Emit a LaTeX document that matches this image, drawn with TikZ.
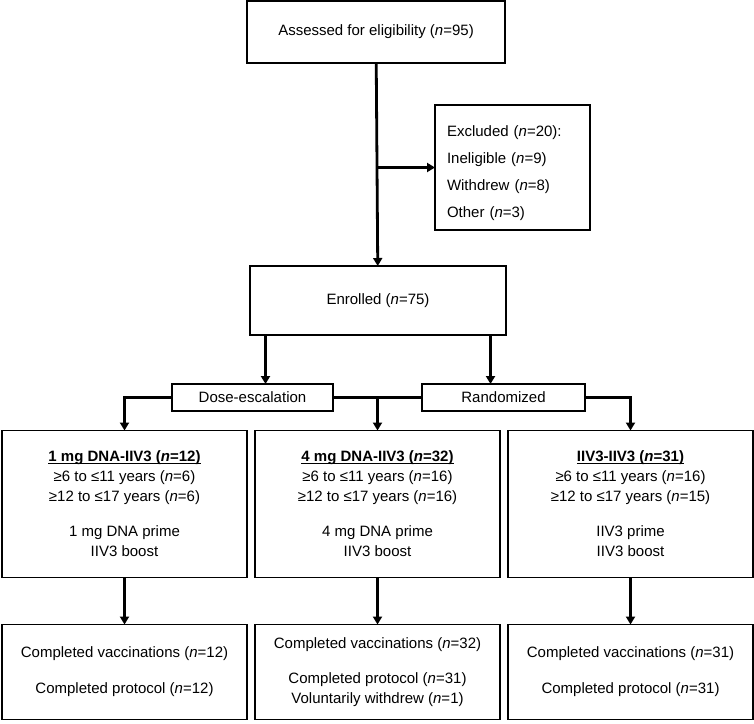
\documentclass[tikz,border=0pt]{standalone}
\usepackage{fontspec}
\setmainfont{Liberation Sans}
\usetikzlibrary{positioning,calc,arrows.meta}
\newcommand{\armhead}[1]{\setbox0\hbox{\textbf{#1}}\rlap{\rule[-2.6pt]{\wd0}{1.4pt}}\box0}

\begin{document}
\begin{tikzpicture}[x=1pt,y=-1pt,every node/.style={block},
				block/.style={draw,rectangle,line width=1.7pt,outer sep=0pt,inner sep=0pt,align=center,font=\fontsize{15}{20}\selectfont},
				arm/.style={minimum width=245pt,minimum height=147pt},
				done/.style={minimum width=245pt,minimum height=95pt},
				flow/.style={line width=2.8pt,-{Triangle[length=8pt,width=9pt]}},
				link/.style={line width=2.8pt}]
				\useasboundingbox (0,0) rectangle (754,723);
				\node (ASSESS) [minimum width=258pt,minimum height=62pt] at (376,32) {Assessed for eligibility (\textit{n}=95)};
				\node (EXCL)   [text width=131pt,inner xsep=12pt,minimum height=125pt,align=left,font=\fontsize{15}{27}\selectfont] at (512.5,167.5)
					{\rule{0pt}{23pt}Excluded (\textit{n}=20):\\Ineligible (\textit{n}=9)\\Withdrew (\textit{n}=8)\\Other (\textit{n}=3)};
				\node (ENROL)  [minimum width=256pt,minimum height=69pt] at (378,300.5) {Enrolled (\textit{n}=75)};
				\node (DOSE)   [minimum width=161pt,minimum height=27pt] at (252.5,397.5) {Dose-escalation};
				\node (RAND)   [minimum width=163pt,minimum height=27pt] at (503.5,397.5) {Randomized};
				\node (G1)     [arm] at (124.5,504)
					{\armhead{1 mg DNA-IIV3 (\textit{n}=12)}\\≥6 to ≤11 years (\textit{n}=6)\\≥12 to ≤17 years (\textit{n}=6)\\[15pt]1 mg DNA prime\\IIV3 boost};
				\node (G2)     [arm,right=8pt of G1]
					{\armhead{4 mg DNA-IIV3 (\textit{n}=32)}\\≥6 to ≤11 years (\textit{n}=16)\\≥12 to ≤17 years (\textit{n}=16)\\[15pt]4 mg DNA prime\\IIV3 boost};
				\node (G3)     [arm,right=8pt of G2]
					{\armhead{IIV3-IIV3 (\textit{n}=31)}\\≥6 to ≤11 years (\textit{n}=16)\\≥12 to ≤17 years (\textit{n}=15)\\[15pt]IIV3 prime\\IIV3 boost};
				\node (R1)     [done,below=47pt of G1] {Completed vaccinations (\textit{n}=12)\\[16pt]Completed protocol (\textit{n}=12)};
				\node (R2)     [done,below=47pt of G2] {Completed vaccinations (\textit{n}=32)\\[15pt]Completed protocol (\textit{n}=31)\\Voluntarily withdrew (\textit{n}=1)};
				\node (R3)     [done,below=47pt of G3] {Completed vaccinations (\textit{n}=31)\\[16pt]Completed protocol (\textit{n}=31)};
				
				\draw[flow] (ASSESS) -- (ENROL);
				\draw[flow] (ASSESS.south |- EXCL.west) -- (EXCL.west);
				\draw[flow] ([xshift=13pt]DOSE.north |- ENROL.south) -- ([xshift=13pt]DOSE.north);
				\draw[flow] ([xshift=-13pt]RAND.north |- ENROL.south) -- ([xshift=-13pt]RAND.north);
				\draw[flow] (DOSE.west) -| (G1.north);
				\draw[link] (DOSE.east) -- (RAND.west);
				\draw[flow] (DOSE.east -| G2.north) -- (G2.north);
				\draw[flow] (RAND.east) -| (G3.north);
				\draw[flow] (G1) -- (R1);
				\draw[flow] (G2) -- (R2);
				\draw[flow] (G3) -- (R3);
			\end{tikzpicture}
\end{document}
